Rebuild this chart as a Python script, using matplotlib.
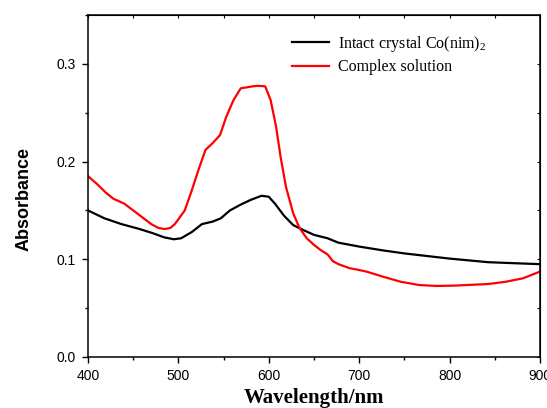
import matplotlib
matplotlib.use("Agg")
import matplotlib.pyplot as plt
from matplotlib.ticker import MultipleLocator

wl_red = [400, 410, 420, 428, 440, 450, 460, 470, 478, 485, 491, 496, 500, 507, 515, 522, 530, 538, 546,
          553, 561, 569, 576, 582, 588, 596, 602, 608, 613, 619, 627, 634, 642, 650, 658, 665, 671, 677,
          689, 700, 708, 727, 746, 766, 785, 804, 843, 862, 881, 900]
abs_red = [0.185, 0.177, 0.168, 0.162, 0.157, 0.150, 0.143, 0.136, 0.132, 0.131, 0.132, 0.136, 0.141, 0.150,
           0.171, 0.191, 0.212, 0.219, 0.227, 0.246, 0.263, 0.275, 0.276, 0.277, 0.2775, 0.277, 0.263, 0.236,
           0.205, 0.174, 0.147, 0.132, 0.1215, 0.1147, 0.109, 0.105, 0.098, 0.095, 0.091, 0.089, 0.0874,
           0.082, 0.077, 0.0737, 0.0727, 0.073, 0.0747, 0.077, 0.0805, 0.0874]

wl_black = [400, 418, 437, 457, 472, 484, 495, 503, 515, 526, 538, 547, 557, 569, 580, 592, 600, 607, 617,
            627, 638, 650, 665, 677, 700, 727, 750, 800, 843, 900]
abs_black = [0.150, 0.142, 0.136, 0.131, 0.1266, 0.1225, 0.1205, 0.1215, 0.128, 0.136, 0.1386, 0.142, 0.150,
             0.156, 0.1608, 0.165, 0.164, 0.1567, 0.1444, 0.135, 0.130, 0.125, 0.1215, 0.117, 0.113, 0.109,
             0.106, 0.1007, 0.097, 0.095]

label_black = "Intact crystal Co(nim)$_2$"
label_red = "Complex solution"
xlabel = "Wavelength/nm"
ylabel = "Absorbance"

plt.rcParams['mathtext.fontset'] = 'custom'
plt.rcParams['mathtext.rm'] = 'Liberation Serif'
plt.rcParams['mathtext.it'] = 'Liberation Serif'

fig = plt.figure(figsize=(5.47, 4.08), dpi=100)
ax = fig.add_axes([88/547, 1-357/408, (540-88)/547, (357-15)/408])

ax.plot(wl_black, abs_black, color='black', lw=1.6, label=label_black)
ax.plot(wl_red, abs_red, color='#ff0000', lw=1.6, label=label_red)

ax.set_xlim(400, 900)
ax.set_ylim(0, 0.35)
ax.xaxis.set_major_locator(MultipleLocator(100))
ax.xaxis.set_minor_locator(MultipleLocator(50))
ax.yaxis.set_major_locator(MultipleLocator(0.1))
ax.yaxis.set_minor_locator(MultipleLocator(0.05))
ax.yaxis.set_major_formatter(matplotlib.ticker.FormatStrFormatter('%.1f'))

ax.tick_params(which='both', direction='out', top=False, right=False,
               labelsize=10, width=1)
ax.tick_params(which='major', length=4.5, pad=4.5)
ax.tick_params(which='minor', length=2.5)
for lab in ax.get_xticklabels() + ax.get_yticklabels():
    lab.set_family('Liberation Sans')
for s in ax.spines.values():
    s.set_linewidth(1.1)

# inner ticks on top and right
axt = ax.secondary_xaxis('top')
axt.xaxis.set_major_locator(MultipleLocator(100))
axt.xaxis.set_minor_locator(MultipleLocator(50))
axt.tick_params(which='both', direction='in', labeltop=False, length=2.5, width=0.8)
axr = ax.secondary_yaxis('right')
axr.yaxis.set_major_locator(MultipleLocator(0.1))
axr.yaxis.set_minor_locator(MultipleLocator(0.05))
axr.tick_params(which='both', direction='in', labelright=False, length=2.5, width=0.8)

fig.text(24/547, 1-199/408, ylabel, rotation=90, ha='center', va='center',
         family='Liberation Sans', fontweight='bold', fontsize=13)
fig.text(314/547, 5/408, xlabel, ha='center', va='baseline',
         family='Liberation Serif', fontweight='bold', fontsize=15)

leg = ax.legend(loc='upper left', bbox_to_anchor=(292/547, 1-33.5/408), bbox_transform=fig.transFigure,
                frameon=False, prop={'family': 'Liberation Serif', 'size': 11.5},
                handlelength=2.3, handletextpad=0.6, labelspacing=0.35, borderpad=0, borderaxespad=0)

fig.savefig('out.png', dpi=100)
